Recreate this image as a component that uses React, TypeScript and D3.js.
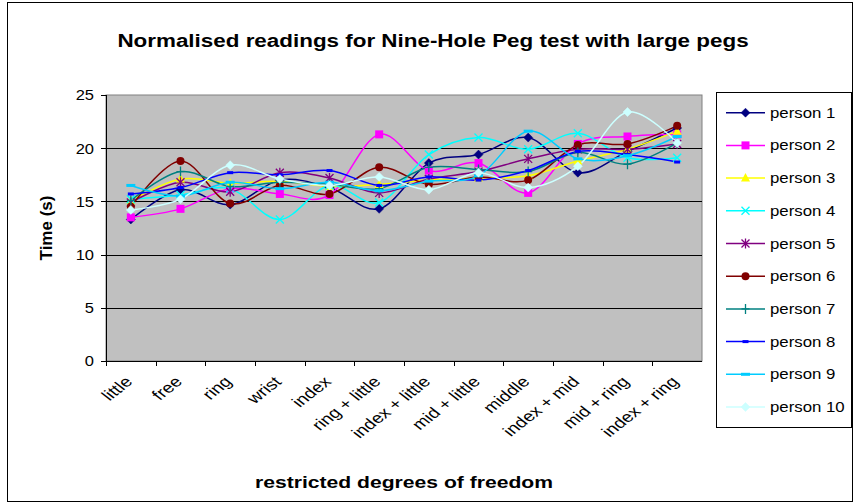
import React from "react";
import * as d3 from "d3";

const categories = ["little", "free", "ring", "wrist", "index", "ring + little", "index + little", "mid + little", "middle", "index + mid", "mid + ring", "index + ring"];
const seriesNames = ["person 1", "person 2", "person 3", "person 4", "person 5", "person 6", "person 7", "person 8", "person 9", "person 10"];
const person1 = [13.3, 16.1, 14.7, 17.0, 16.3, 14.3, 18.6, 19.4, 21.0, 17.7, 19.7, 21.9];
const person2 = [13.5, 14.3, 16.2, 15.7, 15.6, 21.3, 17.9, 18.6, 15.8, 20.4, 21.1, 21.3];
const person3 = [15.05, 17.1, 16.7, 16.9, 16.4, 16.6, 17.0, 17.2, 17.4, 18.8, 19.9, 21.6];
const person4 = [15.2, 15.6, 16.2, 13.3, 16.5, 14.9, 19.4, 21.0, 19.9, 21.4, 19.1, 19.1];
const person5 = [14.9, 16.8, 15.9, 17.7, 17.2, 15.8, 17.1, 17.8, 19.0, 19.9, 19.9, 20.4];
const person6 = [14.5, 18.8, 14.8, 16.5, 15.7, 18.2, 16.6, 17.3, 17.0, 20.3, 20.4, 22.1];
const person7 = [15.1, 17.8, 16.4, 16.8, 16.6, 16.2, 18.2, 18.0, 17.8, 19.6, 18.5, 20.5];
const person8 = [15.7, 16.3, 17.7, 17.5, 17.9, 16.5, 17.3, 17.0, 17.9, 19.7, 19.4, 18.7];
const person9 = [16.5, 15.5, 16.8, 16.2, 16.8, 16.0, 16.9, 17.4, 21.6, 19.0, 19.3, 21.1];
const person10 = [14.2, 15.2, 18.4, 17.1, 16.5, 17.3, 16.1, 17.7, 16.3, 18.3, 23.4, 20.5];
const seriesValues = [person1, person2, person3, person4, person5, person6, person7, person8, person9, person10];
const colors = ["#000080", "#FF00FF", "#FFFF00", "#00FFFF", "#800080", "#800000", "#008080", "#0000FF", "#00CCFF", "#CCFFFF"];
const markerTypes = ["diamond", "square", "triangle", "x", "star", "circle", "plus", "dashShort", "dash", "diamond"];
const yTicks = [0, 5, 10, 15, 20, 25];

const W = 854, H = 504;
const plot = { left: 106, right: 702, top: 95, bottom: 361 };
const FONT = "Arial, 'Liberation Sans', sans-serif";
const SX = 1.28;

function Marker({ type, x, y, color }: { type: string; x: number; y: number; color: string }) {
  const s = 4;
  switch (type) {
    case "diamond":
      return <path d={`M${x},${y - s - 0.5}L${x + s + 0.5},${y}L${x},${y + s + 0.5}L${x - s - 0.5},${y}Z`} fill={color} stroke={color} strokeWidth={0.5} />;
    case "square":
      return <rect x={x - s} y={y - s} width={2 * s} height={2 * s} fill={color} />;
    case "triangle":
      return <path d={`M${x},${y - s - 1}L${x + s + 0.5},${y + s - 0.5}L${x - s - 0.5},${y + s - 0.5}Z`} fill={color} />;
    case "x":
      return <path d={`M${x - s},${y - s}L${x + s},${y + s}M${x - s},${y + s}L${x + s},${y - s}`} stroke={color} strokeWidth={1.3} fill="none" />;
    case "star":
      return <path d={`M${x - s},${y - s}L${x + s},${y + s}M${x - s},${y + s}L${x + s},${y - s}M${x},${y - s - 1}L${x},${y + s + 1}`} stroke={color} strokeWidth={1.3} fill="none" />;
    case "circle":
      return <circle cx={x} cy={y} r={s} fill={color} />;
    case "plus":
      return <path d={`M${x - s},${y}L${x + s},${y}M${x},${y - s - 1}L${x},${y + s + 1}`} stroke={color} strokeWidth={1.3} fill="none" />;
    case "dashShort":
      return <rect x={x - 3} y={y - 1.5} width={6} height={3} fill={color} />;
    case "dash":
      return <rect x={x - 4.5} y={y - 1.5} width={9} height={3} fill={color} />;
    default:
      return null;
  }
}

export default function App() {
  const x = d3.scaleBand<string>().domain(categories).range([plot.left, plot.right]);
  const y = d3.scaleLinear().domain([0, 25]).range([plot.bottom, plot.top]);
  const cx = (c: string) => (x(c) as number) + x.bandwidth() / 2;
  const line = d3.line<number>().x((_, i) => cx(categories[i])).y((v) => y(v)).curve(d3.curveCardinal.tension(0));

  const legendX = 716, legendY = 92;
  const legendStep = 32.7;

  return (
    <svg width={W} height={H} style={{ position: "absolute", left: 0, top: 0, background: "#fff" }} fontFamily={FONT}>
      <rect x={7.5} y={2.5} width={845} height={499} fill="#fff" stroke="#000" strokeWidth={1} />
      <text transform={`translate(433,47) scale(1.18,1)`} textAnchor="middle" fontWeight="bold" fontSize={19}>Normalised readings for Nine-Hole Peg test with large pegs</text>

      <rect x={plot.left} y={plot.top} width={plot.right - plot.left} height={plot.bottom - plot.top} fill="#C0C0C0" stroke="#808080" strokeWidth={1} />
      {yTicks.filter((t) => t > 0 && t < 25).map((t) => (
        <line key={t} x1={plot.left} x2={plot.right} y1={Math.round(y(t)) + 0.5} y2={Math.round(y(t)) + 0.5} stroke="#000" strokeWidth={1} />
      ))}

      {seriesValues.map((vals, si) => (
        <path key={si} d={line(vals) || ""} fill="none" stroke={colors[si]} strokeWidth={1.5} />
      ))}
      {seriesValues.map((vals, si) =>
        vals.map((v, i) => <Marker key={`${si}-${i}`} type={markerTypes[si]} x={cx(categories[i])} y={y(v)} color={colors[si]} />)
      )}

      <line x1={plot.left + 0.5} x2={plot.left + 0.5} y1={plot.top} y2={plot.bottom} stroke="#000" />
      <line x1={plot.left} x2={plot.right} y1={plot.bottom + 0.5} y2={plot.bottom + 0.5} stroke="#000" />
      {yTicks.map((t) => (
        <g key={t}>
          <line x1={plot.left - 5} x2={plot.left} y1={Math.round(y(t)) + 0.5} y2={Math.round(y(t)) + 0.5} stroke="#000" />
          <text transform={`translate(${plot.left - 12},${y(t)}) scale(1.1,1)`} dy="0.36em" textAnchor="end" fontSize={15}>{t}</text>
        </g>
      ))}
      {categories.map((c) => (
        <line key={c} x1={Math.round(x(c) as number) + 0.5} x2={Math.round(x(c) as number) + 0.5} y1={plot.bottom} y2={plot.bottom + 5} stroke="#000" />
      ))}
      {categories.map((c) => (
        <text key={c} transform={`translate(${cx(c) - 2},${plot.bottom + 18}) scale(${SX},1) rotate(-45)`} textAnchor="end" fontSize={15} dy="0.35em">{c}</text>
      ))}

      <text transform={`translate(${(plot.left + plot.right) / 2},488) scale(1.28,1)`} textAnchor="middle" fontWeight="bold" fontSize={16.5}>restricted degrees of freedom</text>
      <text transform={`translate(52,${(plot.top + plot.bottom) / 2}) rotate(-90)`} textAnchor="middle" fontWeight="bold" fontSize={17}>Time (s)</text>

      <rect x={legendX + 0.5} y={legendY + 0.5} width={135} height={335} fill="#fff" stroke="#000" />
      {seriesNames.map((n, i) => {
        const ly = 112.7 + i * legendStep;
        return (
          <g key={n}>
            <line x1={726} x2={765} y1={ly} y2={ly} stroke={colors[i]} strokeWidth={1.5} />
            <Marker type={markerTypes[i]} x={745.5} y={ly} color={colors[i]} />
            <text transform={`translate(770,${ly}) scale(1.2,1)`} dy="0.36em" fontSize={14}>{n}</text>
          </g>
        );
      })}
    </svg>
  );
}
